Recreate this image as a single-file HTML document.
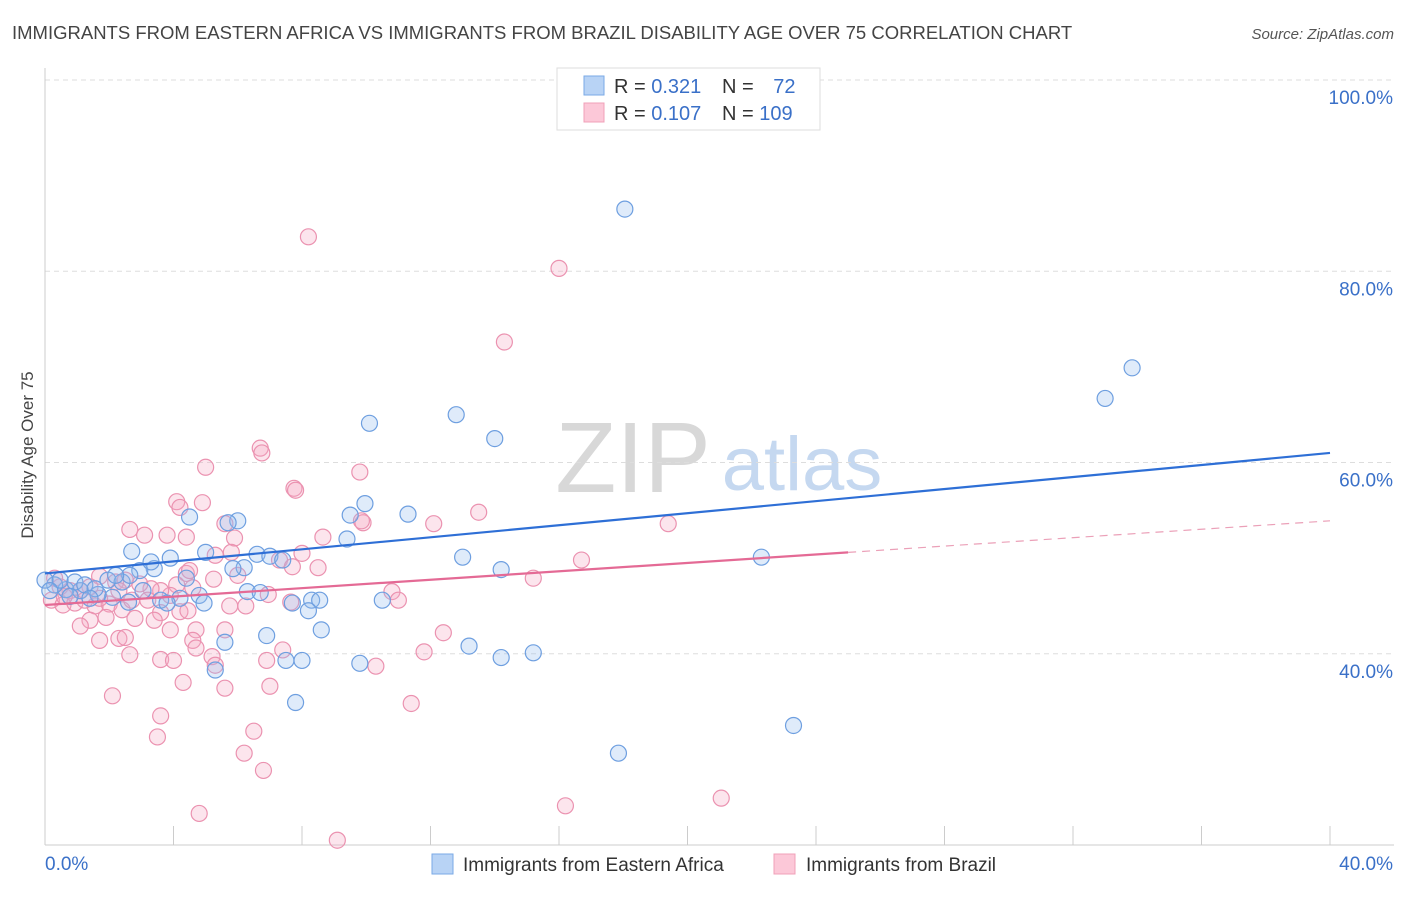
<!DOCTYPE html>
<html><head><meta charset="utf-8">
<style>
body{margin:0;background:#fff;font-family:"Liberation Sans",sans-serif;}
svg text{font-family:"Liberation Sans",sans-serif;}
</style></head>
<body>
<svg id="chart" width="1406" height="892" xmlns="http://www.w3.org/2000/svg">
<text x="12" y="39" font-size="18.5" fill="#444">IMMIGRANTS FROM EASTERN AFRICA VS IMMIGRANTS FROM BRAZIL DISABILITY AGE OVER 75 CORRELATION CHART</text>
<text x="1394" y="39" font-size="15" fill="#555" font-style="italic" text-anchor="end">Source: ZipAtlas.com</text>
<g>
<text x="633" y="492" font-size="100" fill="#d8d8d8" font-family="Liberation Serif" text-anchor="middle">ZIP</text>
<text x="802" y="490" font-size="76" fill="#c5d8f0" text-anchor="middle">atlas</text>
</g>
<g id="grid"></g>
<g id="axes"></g>
<g id="marks"></g>
<g id="lines"></g>
<text transform="translate(33,455) rotate(-90)" font-size="17" fill="#444" text-anchor="middle">Disability Age Over 75</text>
<g>
<rect x="557" y="68" width="263" height="62" fill="#fff" stroke="#ddd"/>
<rect x="584" y="76" width="20" height="19" fill="#b8d3f5" stroke="#7aaae6"/>
<rect x="584" y="103" width="20" height="19" fill="#fcc8d8" stroke="#f0a0b8"/>
<text x="614" y="93" font-size="20" fill="#333">R = <tspan fill="#3a70c8">0.321</tspan></text>
<text x="722" y="93" font-size="20" fill="#333">N = <tspan fill="#3a70c8" dx="14">72</tspan></text>
<text x="614" y="120" font-size="20" fill="#333">R = <tspan fill="#3a70c8">0.107</tspan></text>
<text x="722" y="120" font-size="20" fill="#333">N = <tspan fill="#3a70c8">109</tspan></text>
</g>
<g>
<rect x="432" y="854" width="21" height="20" fill="#b8d3f5" stroke="#7aaae6"/>
<text x="463" y="871" font-size="19" fill="#333">Immigrants from Eastern Africa</text>
<rect x="774" y="854" width="21" height="20" fill="#fcc8d8" stroke="#f0a0b8"/>
<text x="806" y="871" font-size="19" fill="#333">Immigrants from Brazil</text>
</g>
</svg>
<script>
const yTicks=[40,60,80,100];
const yTickLabels=["40.0%","60.0%","80.0%","100.0%"];
const xTicks=[0,4,8,12,16,20,24,28,32,36,40];
const blueX=[18.05,33.84,33.0,10.1,12.8,14.0,9.96,11.3,9.5,9.4,6.0,5.7,4.5,2.7,5.0,6.6,7.0,7.4,6.2,5.85,3.4,2.95,3.3,13.0,22.3,14.2,4.4,3.9,4.8,4.95,4.2,3.6,3.8,2.6,2.1,1.65,1.1,0.65,0.3,0.47,0.93,1.24,1.56,1.96,2.4,2.64,6.3,6.7,7.7,8.3,8.55,8.2,8.6,6.9,5.6,5.3,7.5,8.0,9.8,10.5,13.2,14.2,15.2,7.8,17.85,23.3,0,0.15,0.78,1.4,2.2,3.05];
const blueY=[86.5,69.9,66.7,64.1,65.0,62.5,55.7,54.6,54.5,52.0,53.9,53.7,54.3,50.7,50.6,50.4,50.2,49.8,49.0,48.9,48.9,48.7,49.6,50.1,50.1,48.8,47.9,50.0,46.1,45.3,45.8,45.6,45.3,45.4,45.9,46.2,46.6,46.7,47.2,47.7,47.5,47.2,46.8,47.7,47.5,48.2,46.5,46.4,45.3,45.6,45.6,44.5,42.5,41.9,41.2,38.3,39.3,39.3,39.0,45.6,40.8,39.6,40.1,34.9,29.6,32.5,47.7,46.6,46.0,45.8,48.2,46.6];
const pinkX=[8.2,16.0,14.3,6.7,6.75,5.0,7.75,7.8,9.8,9.9,9.85,13.5,12.1,19.4,4.1,4.9,4.2,2.64,3.1,3.8,4.4,5.6,5.9,5.8,5.3,6.0,7.3,8.0,7.7,8.5,8.65,4.4,4.5,5.25,4.6,4.1,3.9,3.6,3.3,2.95,2.5,2.2,1.7,1.4,1.1,0.78,0.47,0.2,0.56,0.93,1.24,1.56,2.0,2.4,2.7,3.2,3.6,4.2,2.8,1.9,1.4,1.1,1.7,2.3,2.5,3.4,3.9,4.7,4.45,5.75,6.25,6.95,7.65,4.6,4.7,5.2,5.3,3.6,4.0,2.64,6.9,7.4,10.3,10.8,11.0,12.4,11.8,16.7,15.2,11.4,7.0,5.6,4.3,2.1,3.6,3.5,6.5,6.2,6.8,4.8,9.1,16.2,21.05,5.6,2.3,0.6,0.3,1.7];
const pinkY=[83.6,80.3,72.6,61.5,61.0,59.5,57.3,57.1,59.0,53.7,53.9,54.8,53.6,53.6,55.9,55.8,55.3,53.0,52.4,52.4,52.2,53.6,52.1,50.6,50.3,48.2,49.8,50.5,49.1,49.0,52.2,48.4,48.7,47.8,46.9,47.2,46.1,46.6,46.8,47.3,47.7,47.5,48.1,47.0,46.6,46.6,47.0,45.6,45.1,45.3,45.6,45.0,45.2,44.6,45.6,45.6,44.3,44.4,43.7,43.8,43.5,42.9,41.4,41.6,41.7,43.5,42.5,42.5,44.5,45.0,45.0,46.2,45.4,41.4,40.6,39.7,38.8,39.4,39.3,39.9,39.3,40.4,38.7,46.5,45.6,42.2,40.2,49.8,47.9,34.8,36.6,36.4,37.0,35.6,33.5,31.3,31.9,29.6,27.8,23.3,20.5,24.1,24.9,42.5,46.6,46.0,47.9,45.8];
const blueTrend=[[0,48.4],[40,61.0]];
const pinkTrend=[[0,45.1],[25,50.6]];
const pinkTrendExt=[[25,50.6],[40,53.9]];

const NS="http://www.w3.org/2000/svg";
const X0=45,X1=1330,Y20=845,Y100=80;
const sx=v=>X0+(v/40)*(X1-X0);
const sy=v=>Y20-(v-20)/80*(Y20-Y100);
function mk(tag,attrs,parent){const e=document.createElementNS(NS,tag);for(const k in attrs)e.setAttribute(k,attrs[k]);parent.appendChild(e);return e;}
const grid=document.getElementById('grid'),axes=document.getElementById('axes'),marks=document.getElementById('marks'),lines=document.getElementById('lines');
yTicks.forEach((t,i)=>{
  const l=mk('line',{x1:X0,x2:1394,y1:sy(t),y2:sy(t),stroke:'#ddd','stroke-dasharray':'5,4'},grid);
  
  
  const tx=mk('text',{x:1393,y:sy(t)+24,'font-size':19,fill:'#3a70c8','text-anchor':'end'},axes);
  tx.textContent=yTickLabels[i];
  
  
});
const ya=mk('line',{x1:X0,x2:X0,y1:68,y2:Y20,stroke:'#ccc'},axes);


const xa=mk('line',{x1:X0,x2:1394,y1:Y20,y2:Y20,stroke:'#ccc'},axes);


xTicks.forEach(t=>{
  const l=mk('line',{x1:sx(t),x2:sx(t),y1:826,y2:Y20,stroke:'#ccc'},axes);
  
  
});
const xl0=mk('text',{x:45,y:870,'font-size':19,fill:'#3a70c8'},axes);xl0.textContent='0.0%';


const xl1=mk('text',{x:1393,y:870,'font-size':19,fill:'#3a70c8','text-anchor':'end'},axes);xl1.textContent='40.0%';


function pts(xs,ys,fill,stroke,name){
  xs.forEach((x,i)=>{
    const c=mk('circle',{cx:sx(x),cy:sy(ys[i]),r:8,fill:fill,stroke:stroke,'stroke-width':1.2},marks);
    
    
  });
}
pts(pinkX,pinkY,'rgba(245,170,195,0.3)','#eb92b0','brazil-point');
pts(blueX,blueY,'rgba(150,190,240,0.3)','#6e9fe0','eastern-africa-point');
function ln(p,stroke,w,dash,name){
  const l=mk('line',{x1:sx(p[0][0]),y1:sy(p[0][1]),x2:sx(p[1][0]),y2:sy(p[1][1]),stroke:stroke,'stroke-width':w},lines);
  if(dash)l.setAttribute('stroke-dasharray',dash);
  
  
}
ln(blueTrend,'#2e6fd6',2.2,null,'eastern-africa-trendline');
ln(pinkTrend,'#e46a95',2.2,null,'brazil-trendline');
ln(pinkTrendExt,'#eba0b8',1.2,'8,6','brazil-trendline-extension');
</script>
</body></html>
